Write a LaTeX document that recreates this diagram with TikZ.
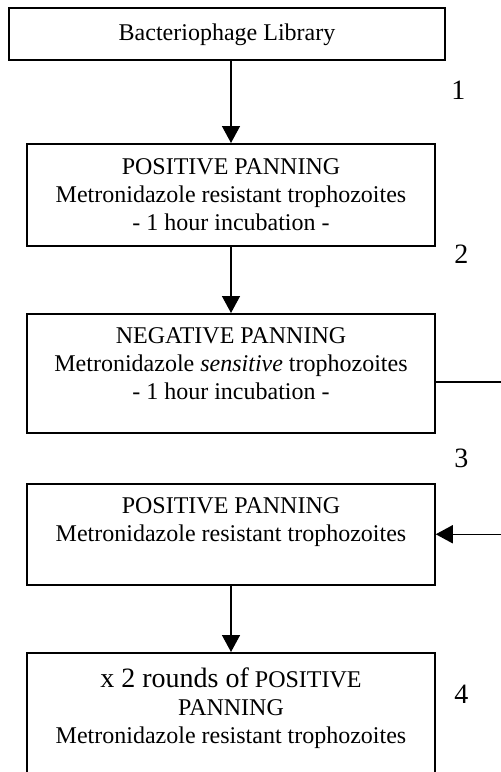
\documentclass[tikz,border=0pt]{standalone}
\usepackage{fontspec}
\setmainfont{Liberation Serif}
\usetikzlibrary{arrows.meta}
\tikzset{
  stage/.style={draw,line width=0.75pt,anchor=north,inner sep=0pt},
  stagetext/.style={anchor=north,align=center,inner sep=0pt,
    font=\fontsize{12}{14}\selectfont},
  flow/.style={line width=0.75pt,-{Triangle[width=9pt,length=8.5pt]}},
  stepnum/.style={anchor=base west,inner sep=0pt,font=\fontsize{14}{16}\selectfont}
}
\begin{document}
\begin{tikzpicture}[x=0.5pt,y=-0.5pt]
  \useasboundingbox (0,0) rectangle (501,772);
  \clip (0,0) rectangle (501,772);
  % boxes
  \node[stage,minimum width=218pt,minimum height=26pt] (lib) at (227,7) {};
  \node[stage,minimum width=204pt,minimum height=51pt] (pos1) at (231,143) {};
  \node[stage,minimum width=204pt,minimum height=59.5pt] (neg) at (231,313) {};
  \node[stage,minimum width=204pt,minimum height=50.5pt] (pos2) at (231,483) {};
  \node[stage,minimum width=204pt,minimum height=100pt] (rounds) at (231,652) {};
  % texts
  \node[stagetext] (libtxt) at ([yshift=-6.7pt]lib.north) {\strut Bacteriophage Library};
  \node[stagetext] (pos1txt) at ([yshift=-5.7pt]pos1.north)
    {\strut POSITIVE PANNING\\Metronidazole resistant trophozoites\\- 1 hour incubation -};
  \node[stagetext] (negtxt) at ([yshift=-5.2pt]neg.north)
    {\strut NEGATIVE PANNING\\Metronidazole \textit{sensitive} trophozoites\\- 1 hour incubation -};
  \node[stagetext] (pos2txt) at ([yshift=-5.2pt]pos2.north)
    {\strut POSITIVE PANNING\\Metronidazole resistant trophozoites};
  \node[stagetext] (roundstxt) at ([yshift=-7.7pt]rounds.north)
    {\strut{\fontsize{14}{17}\selectfont x 2 rounds of} POSITIVE\\PANNING\\Metronidazole resistant trophozoites};
  % step numbers
  \node[stepnum] (n1) at (451,99) {1};
  \node[stepnum] (n2) at (454,263) {2};
  \node[stepnum] (n3) at (454,467) {3};
  \node[stepnum] (n4) at (454,703) {4};
  % arrows
  \draw[flow] (lib.south -| pos1.north) -- (pos1.north);
  \draw[flow] (pos1.south) -- (neg.north);
  \draw[flow] (pos2.south) -- (rounds.north);
  \coordinate (loop) at (530,0);
  \coordinate (negout) at ([yshift=-4.25pt]neg.east);
  \draw[flow] (negout) -- (negout -| loop) |- (pos2.east);
\end{tikzpicture}
\end{document}
